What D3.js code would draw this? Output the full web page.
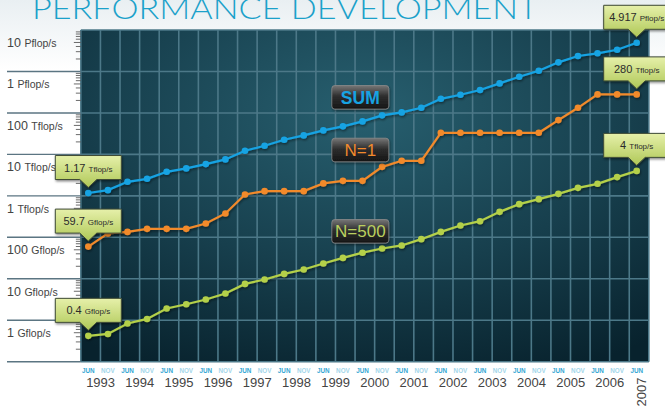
<!DOCTYPE html>
<html lang="en">
<head>
<meta charset="UTF-8">
<title>Performance Development</title>
<script src="https://cdn.jsdelivr.net/npm/d3@7"></script>
<style>
  body { margin: 0; background: #fff; }
  svg { display: block; font-family: "Liberation Sans", Arial, sans-serif; }
</style>
</head>
<body>
<div id="root"></div>
<script>
var width = 665, height = 409

// TOP500 list dates, one point per list (June / November)
var years = [1993, 1994, 1995, 1996, 1997, 1998, 1999, 2000, 2001, 2002, 2003, 2004, 2005, 2006, 2007]
var months = ["JUN", "NOV"]

// performance in Gflop/s
var sumSeries = [1170, 1374, 2180, 2575, 3800, 4590, 5830, 7570, 12200, 16100, 22500, 28700, 37900, 47400,
  62500, 87300, 103000, 133000, 219000, 274000, 356000, 516000, 746000, 1040000, 1660000, 2360000,
  2740000, 3340000, 4917000]
var n1Series = [59.7, 124, 135, 160, 160, 160, 216, 376, 1082, 1300, 1300, 1300, 1994, 2303, 2303, 5010,
  7000, 7000, 33200, 33200, 33200, 33200, 33200, 33200, 67200, 133000, 280000, 280000, 280000]
var n500Series = [0.42, 0.467, 0.832, 1.075, 1.92, 2.43, 3.16, 4.43, 7.52, 9.6, 13.1, 16.7, 23.4, 31.9,
  42.6, 53.8, 63.6, 90.2, 135, 193, 245, 411, 631, 833, 1119, 1560, 1950, 2830, 4000]

var yTickValues = [1e7, 1e6, 1e5, 1e4, 1e3, 100, 10, 1]
var yTickNums = ["10", "1", "100", "10", "1", "100", "10", "1"]
var yTickUnits = ["Pflop/s", "Pflop/s", "Tflop/s", "Tflop/s", "Tflop/s", "Gflop/s", "Gflop/s", "Gflop/s"]

// callouts: [series, point index, number, unit]
var calloutSeries = ["sum", "n1", "n500", "sum", "n1", "n500"]
var calloutIndex = [0, 0, 0, 28, 28, 28]
var calloutNums = ["1.17", "59.7", "0.4", "4.917", "280", "4"]
var calloutUnits = ["Tflop/s", "Gflop/s", "Gflop/s", "Pflop/s", "Tflop/s", "Tflop/s"]

var seriesNames = ["SUM", "N=1", "N=500"]

var series = {
  sum: { values: sumSeries, color: "#17a3e3" },
  n1: { values: n1Series, color: "#f28a2c" },
  n500: { values: n500Series, color: "#b4d04a" }
}

var svg = d3.select('#root')
  .append('svg')
  .attr('width', width)
  .attr('height', height)

var defs = svg.append('defs')

var pageGrad = defs.append('linearGradient').attr('id', 'page').attr('x1', 0).attr('y1', 0).attr('x2', 0).attr('y2', 1)
pageGrad.append('stop').attr('offset', '0%').attr('stop-color', '#e9eff2')
pageGrad.append('stop').attr('offset', '100%').attr('stop-color', '#ffffff')

var plotGrad = defs.append('radialGradient').attr('id', 'plotbg')
  .attr('cx', '50%').attr('cy', '25%').attr('r', '85%')
plotGrad.append('stop').attr('offset', '0%').attr('stop-color', '#275f6f')
plotGrad.append('stop').attr('offset', '55%').attr('stop-color', '#173f4d')
plotGrad.append('stop').attr('offset', '100%').attr('stop-color', '#08222d')

var boxGrad = defs.append('linearGradient').attr('id', 'callout').attr('x1', 0).attr('y1', 0).attr('x2', 0).attr('y2', 1)
boxGrad.append('stop').attr('offset', '0%').attr('stop-color', '#e6f0aa')
boxGrad.append('stop').attr('offset', '100%').attr('stop-color', '#afc857')

var legGrad = defs.append('linearGradient').attr('id', 'legend').attr('x1', 0).attr('y1', 0).attr('x2', 0).attr('y2', 1)
legGrad.append('stop').attr('offset', '0%').attr('stop-color', '#777')
legGrad.append('stop').attr('offset', '45%').attr('stop-color', '#2e2e2e')
legGrad.append('stop').attr('offset', '100%').attr('stop-color', '#151515')

var shadow = defs.append('filter').attr('id', 'shadow').attr('x', '-20%').attr('y', '-20%').attr('width', '140%').attr('height', '160%')
shadow.append('feDropShadow').attr('dx', 0.8).attr('dy', 1.5).attr('stdDeviation', 1.2)
  .attr('flood-color', '#000').attr('flood-opacity', 0.45)

svg.append('rect').attr('width', width).attr('height', 70).attr('fill', 'url(#page)')

// scales
var x = d3.scaleLinear().domain([0, 28]).range([88.3, 636.7])
var y = d3.scaleLog().domain([0.1, 1e7]).range([361.7, 30])
var step = x(1) - x(0)
function gridX(k) { return x(k) - 0.38 * step }
var left = gridX(0), right = gridX(29)

// title (cut off at the top)
svg.append('text')
  .attr('x', 32).attr('y', 19)
  .attr('textLength', 506).attr('lengthAdjust', 'spacingAndGlyphs')
  .style('font-family', 'Lato, "Open Sans", sans-serif')
  .style('font-weight', 300)
  .style('font-size', '30px')
  .attr('fill', '#1ba1ca')
  .text('PERFORMANCE DEVELOPMENT')

// plot background
svg.append('rect')
  .attr('x', left).attr('y', y(1e7))
  .attr('width', right - left).attr('height', y(0.1) - y(1e7))
  .attr('fill', 'url(#plotbg)')

// grid
var grid = svg.append('g').attr('stroke', '#4c7888').attr('stroke-width', 1.6)
grid.selectAll('line.v')
  .data(d3.range(0, 30))
  .enter().append('line')
  .attr('class', 'v')
  .attr('x1', function(k) { return gridX(k) }).attr('x2', function(k) { return gridX(k) })
  .attr('y1', y(1e7)).attr('y2', y(0.1))
grid.selectAll('line.h')
  .data(yTickValues.concat([0.1]))
  .enter().append('line')
  .attr('class', 'h')
  .attr('x1', left).attr('x2', right)
  .attr('y1', function(d) { return y(d) }).attr('y2', function(d) { return y(d) })

// left label separators
svg.append('g').attr('stroke', '#5b7582').attr('stroke-width', 1.4)
  .selectAll('line')
  .data(yTickValues.slice(1).concat([0.1]))
  .enter().append('line')
  .attr('x1', 7).attr('x2', left)
  .attr('y1', function(d) { return y(d) }).attr('y2', function(d) { return y(d) })

// minor log ticks
var minor = []
yTickValues.concat([0.1]).forEach(function(dec) {
  if (dec >= 1e7) return
  for (var k = 2; k <= 9; k++) minor.push(dec * k)
})
svg.append('g').attr('stroke', '#5a5a5a').attr('stroke-width', 0.9)
  .selectAll('line')
  .data(minor)
  .enter().append('line')
  .attr('x1', function(d, i) { return left - (d / Math.pow(10, Math.floor(Math.log10(d) + 1e-9)) === 5 ? 7 : 5) })
  .attr('x2', left)
  .attr('y1', function(d) { return y(d) }).attr('y2', function(d) { return y(d) })

// y labels
var yl = svg.append('g').attr('fill', '#444')
yTickValues.forEach(function(v, i) {
  var t = yl.append('text').attr('x', 7).attr('y', y(v) + 17)
  t.append('tspan').style('font-size', '12.5px').text(yTickNums[i] + ' ')
  t.append('tspan').style('font-size', '10.5px').text(yTickUnits[i])
})

// x labels
var xl = svg.append('g').attr('text-anchor', 'middle')
d3.range(0, 29).forEach(function(i) {
  xl.append('text')
    .attr('x', x(i)).attr('y', 372.5)
    .style('font-size', '6.3px').style('font-weight', 'bold')
    .attr('fill', i % 2 === 0 ? '#33a6d3' : '#a3d6ea')
    .text(months[i % 2])
})
years.forEach(function(yr, j) {
  if (j < years.length - 1) {
    xl.append('text')
      .attr('x', (x(2 * j) + x(2 * j + 1)) / 2 + 2.5).attr('y', 386.5)
      .style('font-size', '13px').attr('fill', '#444')
      .text(yr)
  } else {
    xl.append('text')
      .attr('transform', 'translate(645.5,392) rotate(-90)')
      .style('font-size', '13px').attr('fill', '#444')
      .text(yr)
  }
})

// series lines
var line = d3.line()
  .x(function(d, i) { return x(i) })
  .y(function(d) { return y(d) })

Object.keys(series).forEach(function(key) {
  var s = series[key]
  var g = svg.append('g').attr('filter', 'url(#shadow)')
  g.append('path')
    .attr('d', line(s.values))
    .attr('fill', 'none')
    .attr('stroke', s.color)
    .attr('stroke-width', 2.2)
  g.selectAll('circle')
    .data(s.values)
    .enter().append('circle')
    .attr('cx', function(d, i) { return x(i) })
    .attr('cy', function(d) { return y(d) })
    .attr('r', 3.3)
    .attr('fill', s.color)
})

// legend boxes
var legendY = [97.3, 150, 231.3]
var legendKeys = ["sum", "n1", "n500"]
seriesNames.forEach(function(name, i) {
  var g = svg.append('g').attr('transform', 'translate(360.3,' + legendY[i] + ')')
  g.append('rect')
    .attr('x', -28.5).attr('y', -11.8).attr('width', 57).attr('height', 23.6).attr('rx', 3)
    .attr('fill', 'url(#legend)').attr('stroke', '#8a8a8a').attr('stroke-width', 0.8)
    .attr('filter', 'url(#shadow)')
  g.append('text')
    .attr('text-anchor', 'middle').attr('y', i === 0 ? 6.5 : 6)
    .style('font-size', i === 0 ? '17.5px' : '17px')
    .style('font-weight', i === 0 ? 'bold' : 'normal')
    .attr('fill', i === 2 ? '#bacf5f' : series[legendKeys[i]].color)
    .text(name)
})

// callouts
var bw = 66, bh = 24
calloutSeries.forEach(function(key, c) {
  var i = calloutIndex[c]
  var px = x(i), py = y(series[key].values[i])
  var bottom = py - 13.5, top = bottom - bh
  var l = px - bw / 2, r = px + bw / 2
  var g = svg.append('g')
  g.append('path')
    .attr('d', 'M' + l + ',' + top + 'H' + r + 'V' + bottom + 'H' + (px + 8.5) +
      'L' + px + ',' + (bottom + 8) + 'L' + (px - 8.5) + ',' + bottom + 'H' + l + 'Z')
    .attr('fill', 'url(#callout)').attr('stroke', '#3f4b36').attr('stroke-width', 1)
    .attr('stroke-linejoin', 'round')
    .attr('filter', 'url(#shadow)')
  var t = g.append('text')
    .attr('x', px).attr('y', top + 16)
    .attr('text-anchor', 'middle').attr('fill', '#2b2b2b')
  t.append('tspan').style('font-size', '11px').text(calloutNums[c] + ' ')
  t.append('tspan').style('font-size', '8px').text(calloutUnits[c])
})
</script>
</body>
</html>
